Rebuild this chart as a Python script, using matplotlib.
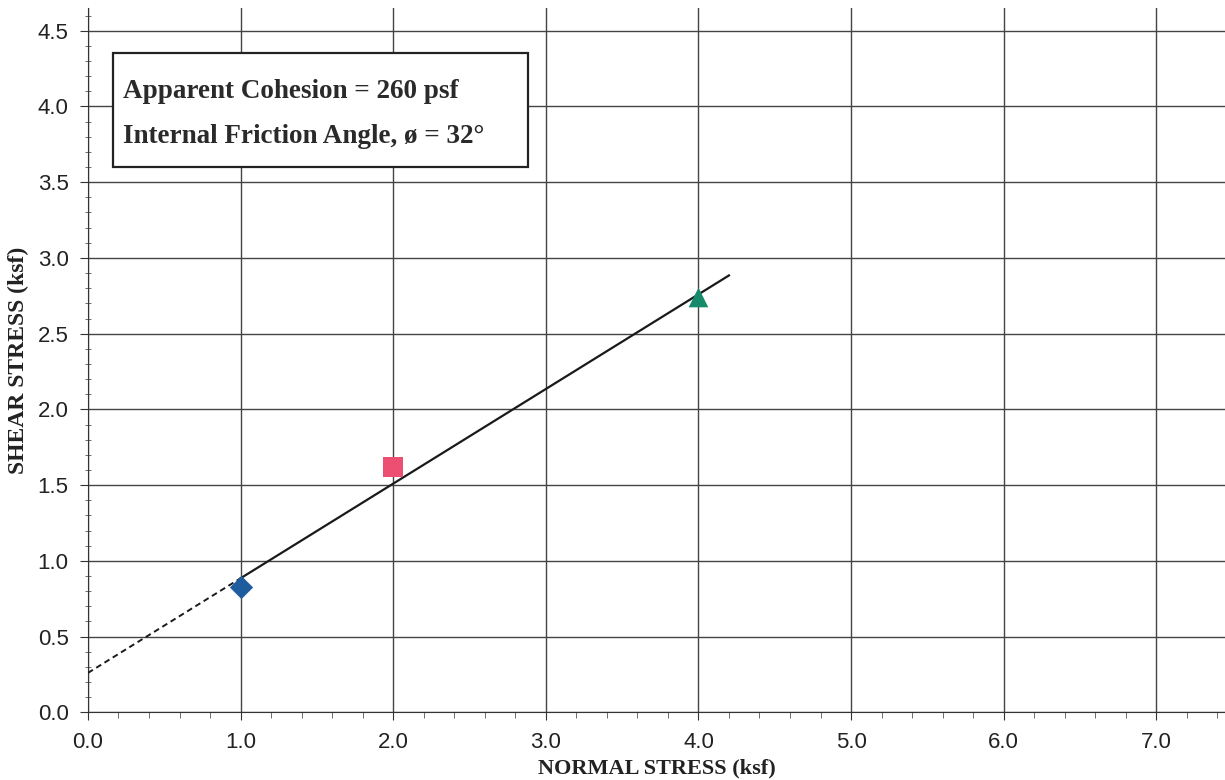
import numpy as np
import matplotlib
matplotlib.use("Agg")
import matplotlib.pyplot as plt
from matplotlib.ticker import MultipleLocator, FormatStrFormatter
from matplotlib.patches import Rectangle

# Data
normal_stress = [1.0, 2.0, 4.0]
shear_stress = [0.83, 1.62, 2.74]
markers = ["D", "s", "^"]
colors = ["#1f5c9e", "#ec4f72", "#178a6c"]
cohesion_ksf = 0.26
phi_deg = 32.0
fit_x_solid = [1.0, 4.2]
fit_x_dashed = [0.0, 1.0]

fig = plt.figure(figsize=(12.25, 7.8), dpi=100)
ax = fig.add_axes([0.0718, 0.0868, 0.9282, 0.9029])

for sp in ["top", "right"]:
    ax.spines[sp].set_visible(False)
ax.spines["left"].set_color("#333333")
ax.spines["bottom"].set_color("#333333")

ax.set_xlim(0, 7.45)
ax.set_ylim(0, 4.65)
ax.xaxis.set_major_locator(MultipleLocator(1.0))
ax.xaxis.set_minor_locator(MultipleLocator(0.2))
ax.yaxis.set_major_locator(MultipleLocator(0.5))
ax.yaxis.set_minor_locator(MultipleLocator(0.1))
ax.xaxis.set_major_formatter(FormatStrFormatter("%.1f"))
ax.yaxis.set_major_formatter(FormatStrFormatter("%.1f"))

ax.grid(True, which="major", color="#444444", linewidth=1.0)
ax.set_axisbelow(True)
ax.tick_params(axis="both", which="major", labelsize=16, length=6, color="#333333",
               labelcolor="#222222", pad=8)
ax.tick_params(axis="y", which="minor", length=5, color="#555555", direction="inout")
ax.tick_params(axis="x", which="minor", length=4, color="#555555")
for lab in ax.get_xticklabels() + ax.get_yticklabels():
    lab.set_family("Liberation Sans")

tanphi = np.tan(np.radians(phi_deg))
xs = np.array(fit_x_solid)
ax.plot(xs, cohesion_ksf + tanphi * xs, color="#1a1a1a", lw=1.6, zorder=3)
xd = np.array(fit_x_dashed)
ax.plot(xd, cohesion_ksf + tanphi * xd, color="#1a1a1a", lw=1.4, ls=(0, (3, 2)), zorder=3)

for x, y, m, c in zip(normal_stress, shear_stress, markers, colors):
    ax.scatter([x], [y], marker=m, s=200 if m != "D" else 140, color=c, zorder=4, linewidths=0)

ax.set_xlabel("NORMAL STRESS (ksf)", family="Liberation Serif", fontweight="bold",
              fontsize=16, color="#222222", labelpad=4)
ax.set_ylabel("SHEAR STRESS (ksf)", family="Liberation Serif", fontweight="bold",
              fontsize=17, color="#222222", labelpad=6)

# Text box
ax.add_patch(Rectangle((0.164, 3.60), 2.716, 0.75, facecolor="white", edgecolor="#222222",
                       lw=1.6, zorder=5))
ax.text(0.23, 4.10, "Apparent Cohesion = 260 psf", family="Liberation Serif",
        fontweight="bold", fontsize=19.5, color="#2a2a2a", va="center", ha="left", zorder=6)
ax.text(0.23, 3.80, "Internal Friction Angle, \u00f8 = 32\u00b0", family="Liberation Serif",
        fontweight="bold", fontsize=19.5, color="#2a2a2a", va="center", ha="left", zorder=6)

fig.savefig("out.png", dpi=100)
